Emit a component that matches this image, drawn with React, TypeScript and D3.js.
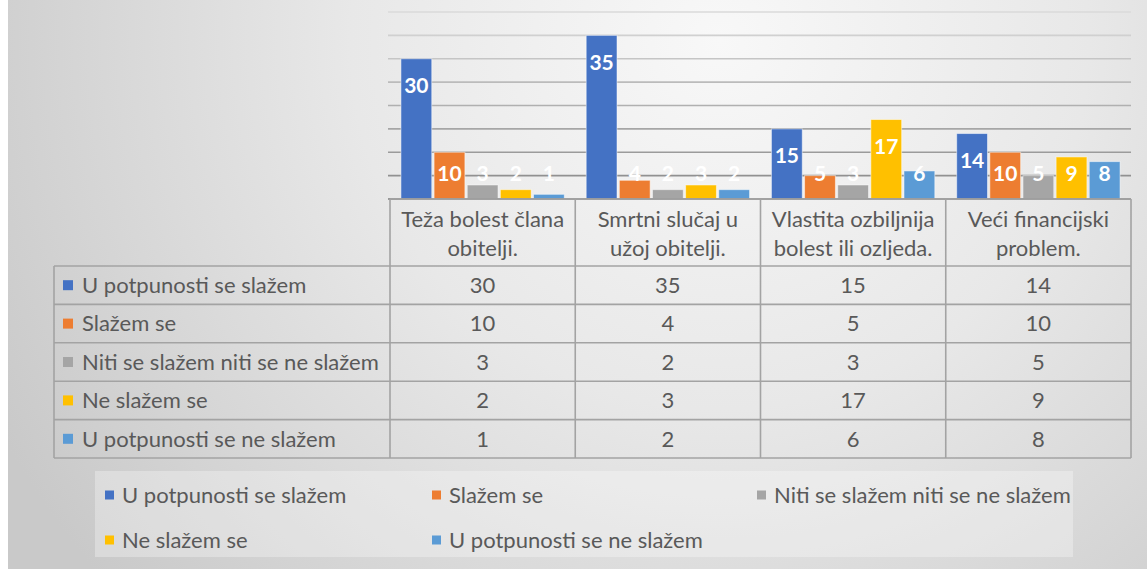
import React from "react";
import * as d3 from "d3";

const categories = [
  ["Teža bolest člana", "obitelji."],
  ["Smrtni slučaj u", "užoj obitelji."],
  ["Vlastita ozbiljnija", "bolest ili ozljeda."],
  ["Veći financijski", "problem."],
];

const seriesNames = [
  "U potpunosti se slažem",
  "Slažem se",
  "Niti se slažem niti se ne slažem",
  "Ne slažem se",
  "U potpunosti se ne slažem",
];

const seriesColors = ["#4472C4", "#ED7D31", "#A5A5A5", "#FFC000", "#5B9BD5"];

// one array per series, values per category
const potpunoSlazem = [30, 35, 15, 14];
const slazem = [10, 4, 5, 10];
const niti = [3, 2, 3, 5];
const neSlazem = [2, 3, 17, 9];
const potpunoNe = [1, 2, 6, 8];

const values = [potpunoSlazem, slazem, niti, neSlazem, potpunoNe];

const gridTicks = [5, 10, 15, 20, 25, 30, 35, 40];

const W = 1147;
const H = 569;
const FONT = "Lato, 'Open Sans', sans-serif";
const TEXT = "#595959";
const FS = 22;

export default function App() {
  const plotLeft = 390;
  const plotRight = 1131;
  const baseY = 199;

  const catIdx = categories.map((_, i) => i);
  const x0 = d3.scaleBand<number>().domain(catIdx).range([plotLeft, plotRight]);
  const x1 = d3
    .scaleBand<number>()
    .domain(seriesNames.map((_, i) => i))
    .range([0, x0.bandwidth()])
    .paddingInner(0.07)
    .paddingOuter(0.33);
  const y = d3.scaleLinear().domain([0, 40]).range([baseY, 12]);

  const gridColor = d3.scaleLinear<string>().domain([12, baseY]).range(["#dadada", "#868686"]);

  // table geometry
  const tableLeft = 54;
  const headerBottom = 266;
  const rowH = 38.4;
  const rowY = (i: number) => headerBottom + i * rowH;
  const tableBottom = rowY(seriesNames.length);

  const legendItems = [
    { i: 0, x: 105, y: 495 },
    { i: 1, x: 432, y: 495 },
    { i: 2, x: 757, y: 495 },
    { i: 3, x: 105, y: 540 },
    { i: 4, x: 432, y: 540 },
  ];

  return (
    <svg
      width={W}
      height={H}
      style={{ position: "absolute", left: 0, top: 0, display: "block" }}
      fontFamily={FONT}
    >
      <defs>
        <radialGradient id="bg" gradientUnits="userSpaceOnUse" cx={720} cy={40} r={820}>
          <stop offset="0" stopColor="#f8f8f8" />
          <stop offset="0.45" stopColor="#e8e8e8" />
          <stop offset="1" stopColor="#c9c9c9" />
        </radialGradient>
      </defs>
      <rect x={0} y={0} width={W} height={H} fill="#ffffff" />
      <rect x={8} y={0} width={W - 8} height={H} fill="url(#bg)" />

      {/* gridlines */}
      {gridTicks.map((t) => (
        <line
          key={`g${t}`}
          x1={388}
          x2={plotRight}
          y1={y(t)}
          y2={y(t)}
          stroke={gridColor(y(t))}
          strokeWidth={1.6}
        />
      ))}

      {/* bars */}
      {values.map((vals, s) =>
        vals.map((v, c) => (
          <rect
            key={`b${s}-${c}`}
            x={(x0(c) ?? 0) + (x1(s) ?? 0)}
            y={y(v)}
            width={x1.bandwidth()}
            height={baseY - y(v)}
            fill={seriesColors[s]}
            stroke="#ffffff"
            strokeOpacity={0.5}
            strokeWidth={1}
          />
        ))
      )}

      {/* data labels */}
      {values.map((vals, s) =>
        vals.map((v, c) => (
          <text
            key={`l${s}-${c}`}
            x={(x0(c) ?? 0) + (x1(s) ?? 0) + x1.bandwidth() / 2}
            y={Math.min(y(v) + 27, baseY - 25)}
            dy="0.35em"
            textAnchor="middle"
            fill="#ffffff"
            fontWeight="bold"
            fontSize={21}
          >
            {v}
          </text>
        ))
      )}

      <line x1={388} x2={plotRight} y1={baseY} y2={baseY} stroke="#7f7f7f" strokeWidth={1.6} />

      {/* data table */}
      <g stroke="#a3a3a3" strokeWidth={1.6} fill="none">
        <line x1={plotLeft} x2={plotRight} y1={baseY} y2={baseY} />
        {d3.range(seriesNames.length + 1).map((i) => (
          <line key={`h${i}`} x1={tableLeft} x2={plotRight} y1={rowY(i)} y2={rowY(i)} />
        ))}
        <line x1={tableLeft} x2={tableLeft} y1={headerBottom} y2={tableBottom} />
        {catIdx.map((c) => (
          <line key={`v${c}`} x1={x0(c)} x2={x0(c)} y1={baseY} y2={tableBottom} />
        ))}
        <line x1={plotRight} x2={plotRight} y1={baseY} y2={tableBottom} />
      </g>

      {/* header labels */}
      {categories.map((lines, c) => (
        <text
          key={`hd${c}`}
          x={(x0(c) ?? 0) + x0.bandwidth() / 2}
          textAnchor="middle"
          fill={TEXT}
          fontSize={FS}
        >
          {lines.map((ln, k) => (
            <tspan key={k} x={(x0(c) ?? 0) + x0.bandwidth() / 2} y={219 + k * 29} dy="0.35em">
              {ln}
            </tspan>
          ))}
        </text>
      ))}

      {/* row labels and values */}
      {seriesNames.map((name, s) => {
        const cy = rowY(s) + rowH / 2;
        return (
          <g key={`r${s}`}>
            <rect x={63} y={cy - 5} width={10} height={10} fill={seriesColors[s]} />
            <text x={82} y={cy} dy="0.35em" fill={TEXT} fontSize={FS}>
              {name}
            </text>
            {values[s].map((v, c) => (
              <text
                key={`c${c}`}
                x={(x0(c) ?? 0) + x0.bandwidth() / 2}
                y={cy}
                dy="0.35em"
                textAnchor="middle"
                fill={TEXT}
                fontSize={FS}
              >
                {v}
              </text>
            ))}
          </g>
        );
      })}

      {/* legend */}
      <rect x={95} y={471} width={978} height={86} fill="#ffffff" fillOpacity={0.3} />
      {legendItems.map(({ i, x, y: ly }) => (
        <g key={`lg${i}`}>
          <rect x={x} y={ly - 4.5} width={9} height={9} fill={seriesColors[i]} />
          <text x={x + 17} y={ly} dy="0.35em" fill={TEXT} fontSize={FS}>
            {seriesNames[i]}
          </text>
        </g>
      ))}
    </svg>
  );
}
